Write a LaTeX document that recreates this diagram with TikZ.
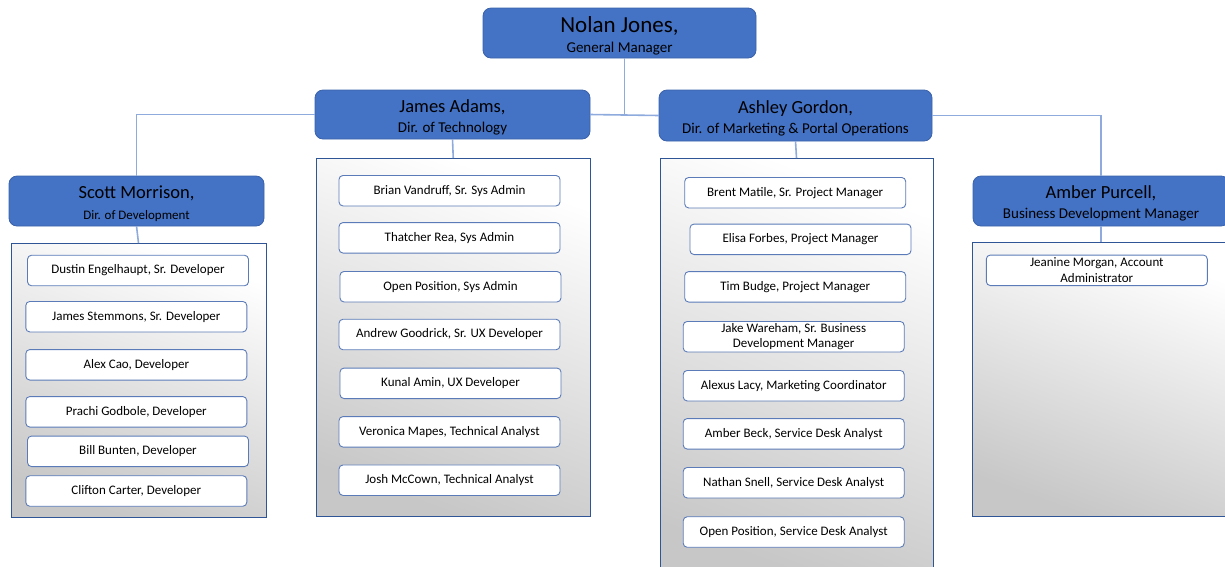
\documentclass[tikz,border=0pt]{standalone}
\usepackage{fontspec}
\setmainfont{Carlito}
\definecolor{hdblue}{HTML}{4472C4}
\definecolor{hdborder}{HTML}{3A62AA}
\definecolor{panelborder}{HTML}{2F5597}
\definecolor{personborder}{HTML}{5B7BB8}
\definecolor{linkblue}{HTML}{8FAADC}
\begin{document}
\begin{tikzpicture}[x=1pt,y=-1pt,
  head/.style={draw=hdborder, fill=hdblue, rounded corners=8pt, line width=0.8pt,
    inner sep=0pt, outer sep=0pt},
  headtext/.style={inner sep=0pt, align=center, yshift=-2.5pt, font=\fontsize{15}{20}\selectfont},
  panel/.style={draw=panelborder, line width=0.9pt, top color=white, bottom color=black!22,
    shading angle=-20, inner sep=0pt, outer sep=0pt},
  person/.style={draw=personborder, fill=white, rounded corners=4pt, line width=0.9pt,
    minimum width=221pt, minimum height=30.5pt, inner sep=0pt, outer sep=0pt,
    align=center, font=\fontsize{13}{15}\selectfont},
  link/.style={draw=linkblue, line width=1.6pt}]
\useasboundingbox (0,0) rectangle (1225,566);

% heads
\node[head, minimum width=273pt, minimum height=50pt,
  label={[headtext]center:{{\fontsize{23}{20}\selectfont Nolan Jones,}\\General Manager}}] (nolan) at (619.5,33) {};
\node[head, minimum width=275pt, minimum height=49pt,
  label={[headtext]center:{{\fontsize{18.5}{20}\selectfont James Adams,}\\Dir. of Technology}}] (james) at (452.5,114.5) {};
\node[head, minimum width=273pt, minimum height=51pt,
  label={[headtext]center:{{\fontsize{18.5}{20}\selectfont Ashley Gordon,}\\Dir. of Marketing \& Portal Operations}}] (ashley) at (795.5,115.5) {};
\node[head, minimum width=255pt, minimum height=50pt,
  label={[headtext, font=\fontsize{13}{20.5}\selectfont]center:{{\fontsize{18.5}{20}\selectfont Scott Morrison,}\\Dir. of Development}}] (scott) at (136.5,201) {};
\node[head, minimum width=256pt, minimum height=50pt,
  label={[headtext]center:{{\fontsize{18.5}{20}\selectfont Amber Purcell,}\\Business Development Manager}}] (amber) at (1101,201) {};

% panels
\node[panel, minimum width=255pt, minimum height=274pt] (scottC) at (138.5,380) {};
\node[panel, minimum width=274.5pt, minimum height=358pt] (jamesC) at (453.25,337) {};
\node[panel, minimum width=273pt, minimum height=424pt] (ashleyC) at (796.5,370) {};
\node[panel, minimum width=258pt, minimum height=274pt] (amberC) at (1101,379) {};

% Scott's team
\node[person] (dustin) at (138,270.5) {Dustin Engelhaupt, Sr. Developer};
\node[person] (stemmons) at (136.3,316.7) {James Stemmons, Sr. Developer};
\node[person] (cao) at (136.3,364.8) {Alex Cao, Developer};
\node[person] (prachi) at (136.3,411.8) {Prachi Godbole, Developer};
\node[person] (bill) at (138,451.3) {Bill Bunten, Developer};
\node[person] (clifton) at (136.3,491) {Clifton Carter, Developer};

% James's team
\node[person] (brian) at (449.5,190.7) {Brian Vandruff, Sr. Sys Admin};
\node[person] (thatcher) at (449.5,237.8) {Thatcher Rea, Sys Admin};
\node[person] (opensa) at (450.5,286.7) {Open Position, Sys Admin};
\node[person] (andrew) at (449.5,334.5) {Andrew Goodrick, Sr. UX Developer};
\node[person] (kunal) at (450.5,383.3) {Kunal Amin, UX Developer};
\node[person] (veronica) at (449.5,431.8) {Veronica Mapes, Technical Analyst};
\node[person] (josh) at (449.5,480.2) {Josh McCown, Technical Analyst};

% Ashley's team
\node[person] (brent) at (795.2,192.7) {Brent Matile, Sr. Project Manager};
\node[person] (elisa) at (800.5,239.3) {Elisa Forbes, Project Manager};
\node[person] (tim) at (795.2,286.8) {Tim Budge, Project Manager};
\node[person] (jake) at (793.7,336.7) {Jake Wareham, Sr. Business\\Development Manager};
\node[person] (alexus) at (793.7,385.7) {Alexus Lacy, Marketing Coordinator};
\node[person] (amberbeck) at (793.7,433.8) {Amber Beck, Service Desk Analyst};
\node[person] (nathan) at (793.7,482.7) {Nathan Snell, Service Desk Analyst};
\node[person] (opensda) at (793.7,532) {Open Position, Service Desk Analyst};

% Amber's team
\node[person, font=\fontsize{13}{15.6}\selectfont] (jeanine) at (1096.8,270.3) {Jeanine Morgan, Account\\Administrator};

% connectors
\draw[link] ([xshift=5pt]nolan.south) |- (james.east);
\draw[link] (james.east) -- (ashley.west);
\draw[link] (scott.north) |- (james.west);
\draw[link] (ashley.east) -| (amber.north);
\draw[link] (scott.south) -- (scottC.north);
\draw[link] (james.south) -- (jamesC.north);
\draw[link] (ashley.south) -- (ashleyC.north);
\draw[link] (amber.south) -- (amberC.north);
\end{tikzpicture}
\end{document}
